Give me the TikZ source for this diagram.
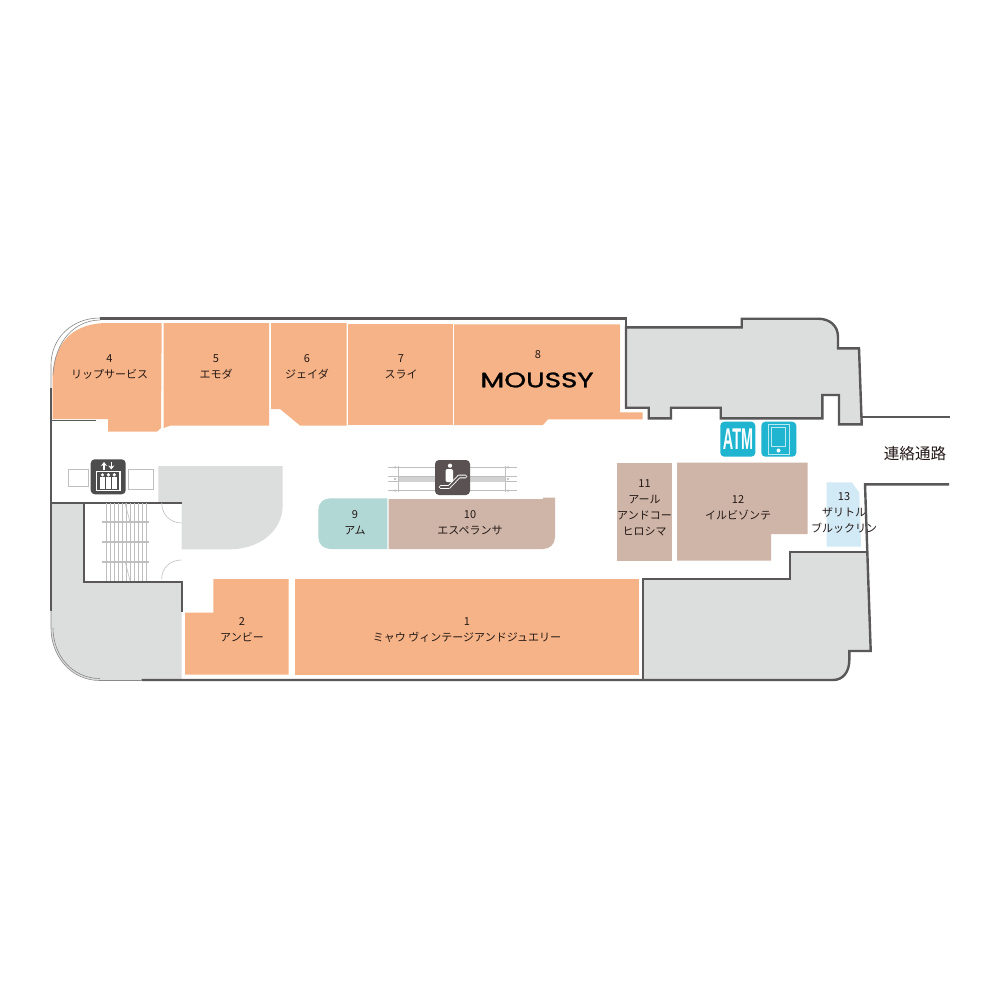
\documentclass[tikz,border=0pt]{standalone}
\usepackage{fontspec}
\usetikzlibrary{arrows.meta}
\newfontfamily\jpfont{Noto Sans CJK JP}
\newfontfamily\logofont[FakeBold=1.2]{Poppins}
\newfontfamily\atmfont{Liberation Sans}
\definecolor{wall}{HTML}{595757}
\definecolor{void}{HTML}{DCDDDD}
\definecolor{fashion}{HTML}{F5B387}
\definecolor{goods}{HTML}{CFB5A8}
\definecolor{teal}{HTML}{B2D8D6}
\definecolor{sky}{HTML}{D2E9F6}
\definecolor{service}{HTML}{1FB5D0}
\definecolor{liftbox}{HTML}{4D4D4D}
\definecolor{escbox}{HTML}{5A5252}
\definecolor{inktext}{HTML}{231815}
\begin{document}
\begin{tikzpicture}[x=0.5pt,y=-0.5pt,
  wall line/.style={draw=wall,line width=1.2pt,line join=miter},
  thin wall/.style={draw=wall!70,line width=0.3pt},
  stair line/.style={draw=black!25,line width=0.3pt},
  store label/.style={font=\jpfont\fontsize{5.5}{8}\selectfont,text=inktext,align=center,inner sep=0pt},
  icon box/.style={rounded corners=2pt}]

  \useasboundingbox[fill=white] (0,0) rectangle (1000,1000);

  % grey areas
  \fill[void] (158.3,466) -- (282.7,466) -- (282.7,505) .. controls (282.7,532) and (258,549.3) .. (230,549.3)
    -- (181.7,549.3) -- (181.7,502.7) -- (158.3,502.7) -- cycle;
  \fill[void] (51,502.7) -- (84,502.7) -- (84,581.7) -- (181.7,581.7) -- (181.7,680) -- (100,680)
    .. controls (70,680) and (51,655) .. (51,628) -- cycle;

  % shops
  \fill[fashion] (52.7,419) -- (108,419) -- (108,431.7) -- (157,431.7) -- (161,428) -- (161.7,323) -- (108,323)
    .. controls (75,323) and (55,340) .. (52.7,375) -- cycle;
  \fill[fashion] (163.7,323) -- (269,323) -- (269,425.7) -- (170,425.7) -- (163.7,428) -- cycle;
  \fill[fashion] (271,323) -- (346.7,323) -- (346.7,425.5) -- (300,425.5) -- (280,409) -- (271,409) -- cycle;
  \fill[fashion] (348,324.3) -- (453,324.3) -- (453,425) -- (348,425) -- cycle;
  \fill[fashion] (454,324.3) -- (620,324.3) -- (620,412.3) -- (642.7,412.3) -- (642.7,419.3) -- (548,419.3)
    -- (543,425) -- (454,425) -- cycle;
  \fill[fashion] (294.7,579) rectangle (639.3,674.7);
  \fill[fashion] (213.3,579) -- (288.7,579) -- (288.7,674.7) -- (185,674.7) -- (185,612.7) -- (213.3,612.7) -- cycle;
  \fill[teal] (387.3,498.3) -- (332,498.3) .. controls (323,498.3) and (318.3,503) .. (318.3,510)
    -- (318.3,537) .. controls (318.3,544) and (323,549) .. (332,549) -- (387.3,549) -- cycle;
  \fill[goods] (388.7,499) -- (543,499) -- (543,497.5) -- (555,497.5) -- (555,537)
    .. controls (555,544) and (550,549) .. (543,549) -- (388.7,549) -- cycle;
  \fill[goods] (616.7,462.7) rectangle (672.3,560.7);
  \fill[goods] (677,462.7) -- (807.7,462.7) -- (807.7,534) -- (771,534) -- (771,560.7) -- (677,560.7) -- cycle;
  \fill[sky] (826.7,482.3) -- (851.7,482.3) -- (859.3,492.7) -- (861,546.7) -- (826.7,546.7) -- cycle;

  % walls
  \draw[wall line] (100,318.5) -- (626,318.5) -- (626,407.7);
  \draw[wall line,fill=void] (626,327.3) -- (741.7,327.3) -- (741.7,318.7) -- (818,318.7)
    .. controls (830,318.7) and (838,326) .. (838,337) -- (838,348.3) -- (859,348.3) -- (861.7,424.3)
    -- (839,424.3) -- (839,395) -- (822.3,395) -- (822.3,418.3) -- (720.7,418.3) -- (720.7,407.7)
    -- (671,407.7) -- (671,418.3) -- (648.7,418.3) -- (648.7,407.7) -- (626,407.7) -- cycle;
  \draw[wall line] (861.7,416.7) -- (950,416.7);
  \path[fill=void] (643.3,579.3) -- (790,579.3) -- (790,552.3) -- (866.7,552.3) -- (870.7,651) -- (849.3,651)
    -- (849.3,660) .. controls (849.3,672) and (843,680) .. (833,680) -- (643.3,680) -- cycle;
  \draw[wall line,line width=0.9pt] (643.3,680) -- (643.3,579.3) -- (790,579.3) -- (790,552.3) -- (866.7,552.3);
  \draw[wall line] (949,484.3) -- (865,484.3) -- (870.7,651) -- (849.3,651) -- (849.3,660)
    .. controls (849.3,672) and (843,680) .. (833,680) -- (141.7,680);
  \draw[wall line] (51,388) -- (51,610.7);
  \draw[wall line,line width=0.9pt] (51,502.7) -- (181.7,502.7);
  \draw[wall line,line width=0.9pt] (84,502.7) -- (84,581.7) -- (181.7,581.7) -- (181.7,611.7);
  \draw[wall line,line width=0.5pt] (51,420) -- (96,420);
  \draw[thin wall] (51,388) -- (51,365) .. controls (51,338) and (72,318) .. (100,318);
  \draw[thin wall] (53,375) .. controls (55,340) and (75,320.5) .. (100,320);
  \draw[thin wall] (51,610.7) -- (51,628) .. controls (51,655) and (70,680.5) .. (100,680.5) -- (141.7,680.5);
  \draw[thin wall] (53,628) .. controls (53,655) and (72,678.5) .. (100,678.5);

  % stairs and doors
  \foreach \x in {106,110,...,148}
    \draw[stair line] (\x,503) -- (\x,580.7);
  \foreach \y in {522,542,562}
    \draw[stair line,line width=0.6pt] (102,\y) -- (149,\y);
  \draw[stair line] (125,503) -- (130,522);
  \draw[stair line] (125,561) -- (130,580.7);
  \draw[stair line] (161.7,503) .. controls (161.7,514) and (170,523) .. (181.7,523);
  \draw[stair line] (161.7,579) .. controls (161.7,568) and (170,560) .. (181.7,560);

  % lift
  \draw[stair line] (68.3,469.3) rectangle (88.7,486.7);
  \draw[stair line] (128.3,469.3) rectangle (153.3,489.3);
  \fill[liftbox,icon box] (90.7,459.3) rectangle (125.7,494.3);
  \draw[white,line width=0.6pt] (96.7,471.3) rectangle (120,490.7);
  \foreach \x in {102.5,108.4,114.3}{
    \fill[white] (\x,474.8) circle (1.8);
    \fill[white] (\x-2.4,477.3) rectangle (\x+2.4,488.5);
  }
  \draw[white,line width=0.6pt,-{Stealth[length=2pt,width=3pt]}] (104,469.5) -- (104,462);
  \draw[white,line width=0.6pt,-{Stealth[length=2pt,width=3pt]}] (111.3,462) -- (111.3,469.5);

  % escalator
  \foreach \y in {467.3,476.5,481.5,490.7}
    \draw[stair line] (388,\y) -- (517,\y);
  \fill[black!18] (398,476.5) rectangle (505,481.5);
  \draw[stair line] (398,466) -- (398,492);
  \draw[stair line] (505,466) -- (505,492);
  \foreach \y in {467.3,479,490.7}{
    \fill[black!25] (395,\y) circle (1.3);
    \fill[black!25] (508,\y) circle (1.3);
  }
  \fill[escbox,icon box] (435,460) rectangle (470,495);
  \fill[white] (450,465.7) circle (2.1);
  \fill[white,rounded corners=1pt] (445.5,469) rectangle (453,482);
  \draw[white,line width=1.8pt,line cap=round,line join=round] (440.5,487) -- (449,487) -- (459,476.5) -- (465.5,476.5);
  \draw[escbox,line width=0.9pt,line cap=round,line join=round] (440.5,487) -- (449,487) -- (459,476.5) -- (465.5,476.5);

  % atm and phone
  \fill[service,icon box] (720.3,421.7) rectangle (755.3,456.7);
  \node[font=\atmfont\bfseries\fontsize{15}{15}\selectfont,text=white,inner sep=0pt,xscale=0.48] (atm) at (738,439.5) {ATM};
  \fill[service,icon box] (761.3,421.7) rectangle (796.3,456.7);
  \draw[white!70!service,line width=0.4pt] (768,424) rectangle (789,454.3);
  \draw[white!70!service,line width=0.4pt] (771.7,427.3) rectangle (785.7,446.7);
  \fill[white] (778.5,450.5) circle (2);

  % labels
  \node[store label] (shop4) at (109.5,367) {4\\リップサービス};
  \node[store label] (shop5) at (216,367) {5\\エモダ};
  \node[store label] (shop6) at (307,367) {6\\ジェイダ};
  \node[store label] (shop7) at (401,367) {7\\スライ};
  \node[store label] (shop8) at (538,355) {8};
  \node[font=\logofont\fontsize{10.5}{11}\selectfont,text=black,inner sep=0pt,xscale=1.32] (moussy) at (537,380) {MOUSSY};
  \node[store label] (shop9) at (355,523) {9\\アム};
  \node[store label] (shop10) at (470,523) {10\\エスペランサ};
  \node[store label] (shop11) at (644.5,508) {11\\アール\\アンドコー\\ヒロシマ};
  \node[store label] (shop12) at (738,508) {12\\イルビゾンテ};
  \node[store label] (shop13) at (844,512.5) {13\\ザリトル\\ブルックリン};
  \node[store label] (shop2) at (242,630) {2\\アンビー};
  \node[store label] (shop1) at (467,630) {1\\ミャウ ヴィンテージアンドジュエリー};
  \node[font=\jpfont\fontsize{7.8}{8}\selectfont,text=inktext,inner sep=0pt] (link) at (915,454) {連絡通路};
\end{tikzpicture}
\end{document}
